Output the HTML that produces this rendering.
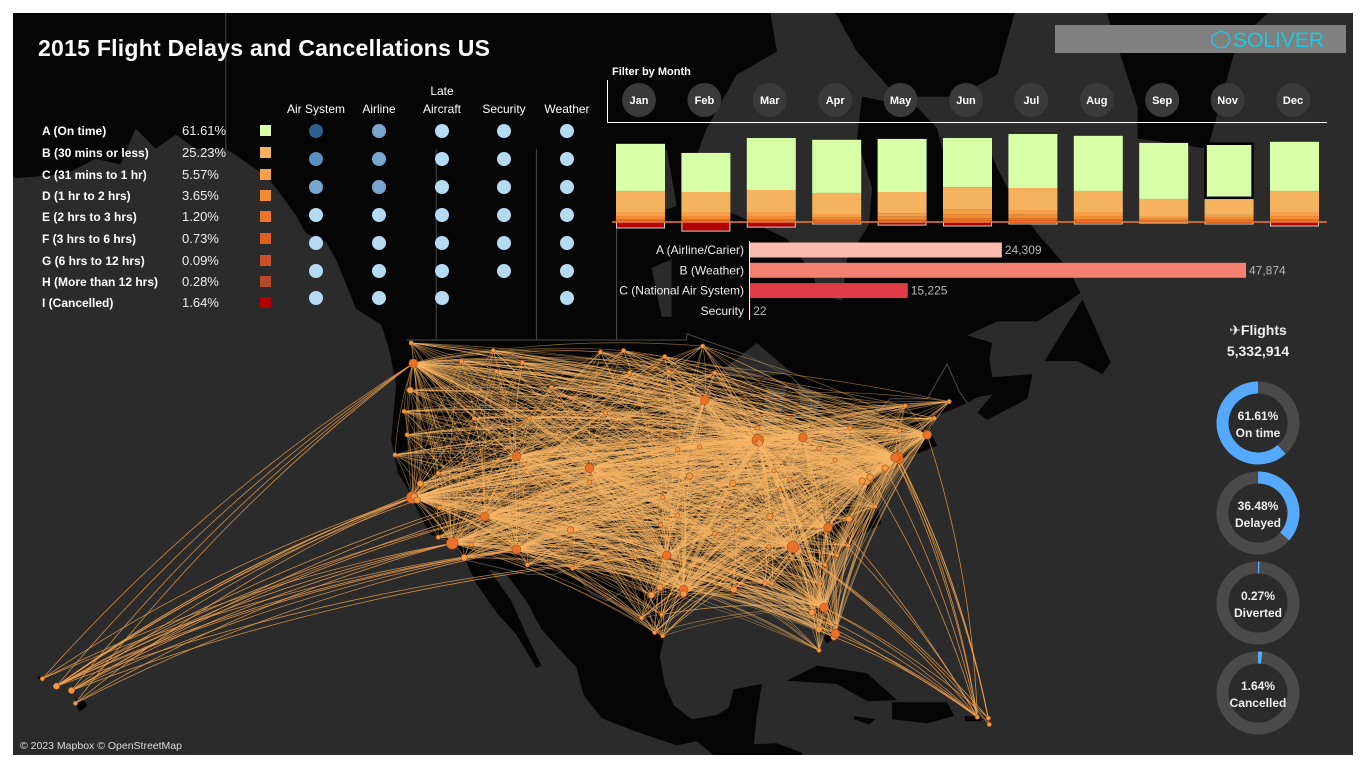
<!DOCTYPE html>
<html><head><meta charset="utf-8">
<style>
html,body{margin:0;padding:0;background:#fff;}
body{width:1365px;height:767px;overflow:hidden;position:relative;font-family:"Liberation Sans",sans-serif;}
svg{position:absolute;left:0;top:0;}
</style></head>
<body>
<svg id="root" width="1365" height="767" viewBox="0 0 1365 767">
  <defs><clipPath id="clipDash"><rect x="13" y="13" width="1340" height="742"/></clipPath></defs>
  <rect x="0" y="0" width="1365" height="767" fill="#ffffff"/>
  <g clip-path="url(#clipDash)">
    <rect x="13" y="13" width="1340" height="742" fill="#2b2b2b"/>
    <g id="land"></g>
    <g id="borders"></g>
    <g id="routes"></g>
    <g id="airports"></g>
  </g>
  <text x="38" y="56" fill="#ffffff" font-size="23" font-weight="bold" font-family="Liberation Sans, sans-serif" textLength="452">2015 Flight Delays and Cancellations US</text>
  <g>
    <rect x="1055" y="25" width="291" height="28" fill="#808080"/>
    <polygon points="1221,31 1228,34 1230,41 1226,47 1218,48 1212,43 1212,36" fill="none" stroke="#1ec8e0" stroke-width="1.3"/>
    <text x="1233" y="47" fill="#1ec8e0" font-size="21" font-family="Liberation Sans, sans-serif">SOLIVER</text>
  </g>
  <g id="legend"></g>
  <g id="dots"></g>
  <g id="filter">
    <text x="612" y="75" fill="#fff" font-size="11" font-weight="bold" font-family="Liberation Sans, sans-serif">Filter by Month</text>
    <line x1="607.5" y1="80" x2="607.5" y2="122" stroke="#fff" stroke-width="1"/>
    <line x1="607" y1="122.5" x2="1327" y2="122.5" stroke="#fff" stroke-width="1"/>
  </g>
  <g id="stack"></g>
  <g id="causes"></g>
  <g id="kpi">
    <text x="1258" y="335" text-anchor="middle" fill="#eee" font-size="14" font-weight="bold" font-family="Liberation Sans, DejaVu Sans, sans-serif">✈Flights</text>
    <text x="1258" y="356" text-anchor="middle" fill="#eee" font-size="14" font-weight="bold" font-family="Liberation Sans, sans-serif">5,332,914</text>
  </g>
  <g>
    <rect x="13" y="737" width="180" height="17" fill="#2b2b2b" opacity="0.8"/>
    <text x="20" y="749" fill="#ddd" font-size="10.5" font-family="Liberation Sans, sans-serif">© 2023 Mapbox © OpenStreetMap</text>
  </g>
</svg>
<script>
// ---------- chart data ----------
const months = ["Jan","Feb","Mar","Apr","May","Jun","Jul","Aug","Sep","Nov","Dec"];
const onTime = [259,215,286,292,292,270,297,303,308,303,270];
const delayB = [116,110,121,116,116,121,121,116,94,94,116];
const delayC = [22,22,22,18,20,29,26,22,13,15,22];
const delayD = [17,17,17,13,15,22,20,17,10,12,17];
const delayE = [8,8,8,6,7,9,9,8,5,6,8];
const delayFGH = [8,8,8,7,7,11,11,8,5,6,8];
const cancelled = [33,50,28,11,17,22,11,11,6,11,22];
const selectedMonth = "Nov";

const causeLabels = ["A (Airline/Carier)","B (Weather)","C (National Air System)","Security"];
const causeValues = [24309,47874,15225,22];
const causeValueLabels = ["24,309","47,874","15,225","22"];

const legendLabels = ["A (On time)","B (30 mins or less)","C (31 mins to 1 hr)","D (1 hr to 2 hrs)","E (2 hrs to 3 hrs)","F (3 hrs to 6 hrs)","G (6 hrs to 12 hrs)","H (More than 12 hrs)","I (Cancelled)"];
const legendPct = ["61.61%","25.23%","5.57%","3.65%","1.20%","0.73%","0.09%","0.28%","1.64%"];

const causeCols = ["Air System","Airline","Late Aircraft","Security","Weather"];
const dotAirSystem = [3,2,1,0,0,0,0];
const dotAirline = [1,1,1,0,0,0,0];
const dotLateAircraft = [0,0,0,0,0,0,0];
const dotSecurity = [0,0,0,0,0,0,-1];
const dotWeather = [0,0,0,0,0,0,0];

const donutLabels = ["On time","Delayed","Diverted","Cancelled"];
const donutValues = [61.61,36.48,0.27,1.64];

const airports = [
["SEA",-122.3,47.45,2],["PDX",-122.6,45.6,1],["SFO",-122.4,37.6,3],["OAK",-122.2,37.7,1],["SJC",-121.9,37.4,1],["SMF",-121.6,38.7,1],
["LAX",-118.4,33.9,3],["SAN",-117.2,32.7,1],["LAS",-115.15,36.1,2],["PHX",-112,33.4,2],["SLC",-112,40.8,2],["DEN",-104.7,39.9,2],
["BOI",-116.2,43.6,0],["GEG",-117.5,47.6,0],["BIL",-108.5,45.8,0],["ABQ",-106.6,35,1],["ELP",-106.4,31.8,0],["TUS",-110.9,32.1,0],
["DFW",-97,32.9,2],["IAH",-95.3,30,2],["HOU",-95.3,29.6,1],["AUS",-97.7,30.2,1],["SAT",-98.5,29.5,1],["MSY",-90.3,30,1],
["OKC",-97.6,35.4,0],["MCI",-94.7,39.3,1],["STL",-90.4,38.7,1],["MSP",-93.2,44.9,2],["ORD",-87.9,42,3],["MDW",-87.75,41.8,1],
["DTW",-83.4,42.2,2],["CLE",-81.8,41.4,0],["PIT",-80.2,40.5,0],["ATL",-84.4,33.6,3],["CLT",-80.9,35.2,2],["MCO",-81.3,28.4,2],
["MIA",-80.3,25.8,1],["FLL",-80.15,26.1,2],["TPA",-82.5,28,1],["JFK",-73.8,40.6,2],["LGA",-73.9,40.8,2],["EWR",-74.2,40.7,2],
["BOS",-71,42.4,2],["PHL",-75.2,39.9,1],["DCA",-77,38.85,1],["IAD",-77.5,38.9,1],["BWI",-76.7,39.2,1],["BNA",-86.7,36.1,1],
["MEM",-90,35,0],["IND",-86.3,39.7,0],["CVG",-84.7,39,0],["SDF",-85.7,38.2,0],["RDU",-78.8,35.9,1],["JAX",-81.7,30.5,0],
["SAV",-81.2,32.1,0],["CHS",-80,32.9,0],["MKE",-87.9,42.9,0],["FAR",-96.8,46.9,0],["BIS",-100.7,46.8,0],["MSO",-114,46.9,0],
["GTF",-111.4,47.5,0],["FCA",-114.3,48.3,0],["MOT",-101.3,48.3,0],["ISN",-103.6,48.2,0],["GFK",-97.2,47.9,0],["BLI",-122.5,48.8,0],
["DLH",-92.2,46.8,0],["INL",-93.4,48.6,0],["BGR",-68.8,44.8,0],["PWM",-70.3,43.6,0],["BTV",-73.2,44.5,0],["BRO",-97.4,25.9,0],
["MFE",-98.2,26.2,0],["LRD",-99.5,27.5,0],["CRP",-97.5,27.8,0],["RSW",-81.8,26.5,1],["PBI",-80.1,26.7,0],["EYW",-81.8,24.6,0],
["PNS",-87.2,30.5,0],["VPS",-86.5,30.5,0],["OMA",-95.9,41.3,0],["DSM",-93.7,41.5,0],["ICT",-97.4,37.6,0],["TUL",-95.9,36.2,0],
["LIT",-92.2,34.7,0],["BHM",-86.8,33.6,0],["RNO",-119.8,39.5,0],["FAT",-119.7,36.8,0],["COS",-104.7,38.8,0],["RAP",-103.1,44,0],
["JAC",-110.7,43.6,0],["MFR",-122.9,42.4,0],["EUG",-123.2,44.1,0],["ACV",-124.1,40.9,0],["SBA",-119.8,34.4,0],["PSP",-116.5,33.8,0],
["BUF",-78.7,42.9,0],["ALB",-73.8,42.7,0],["ORF",-76.2,36.9,0],["MYR",-78.9,33.7,0],["HNL",-157.9,21.3,1],["OGG",-156.4,20.9,1],
["KOA",-156,19.7,0],["LIH",-159.3,22,0],["SJU",-66,18.4,0],["STT",-64.9,18.3,0],["STX",-64.8,17.7,0]
];
const hubs = ["ATL","ORD","DFW","DEN","LAX","SFO","MSP","DTW","IAH","SEA","PHX","LAS","SLC","EWR","CLT","JFK","BOS","MCO","BWI","MDW"];
const hawaiiLinks = ["LAX","SFO","SEA","PHX","LAS","DEN","DFW","ORD","SLC","OAK","SAN","SJC","PDX","IAH"];
const sjuLinks = ["ATL","JFK","EWR","MCO","MIA","FLL","BOS","PHL","CLT","ORD","BWI","DFW","TPA"];

// ---------- helpers ----------
const NS = "http://www.w3.org/2000/svg";
function mk(tag, attrs, parent){const e=document.createElementNS(NS,tag);for(const k in attrs)e.setAttribute(k,attrs[k]);if(parent)parent.appendChild(e);return e;}
const merc = lat => Math.log(Math.tan(Math.PI/4 + lat*Math.PI/360));
const projX = lon => 834 + 10.02*(lon + 80.3);
const projY = lat => 637 - 574*(merc(lat) - merc(25.8));
const F = "Liberation Sans, sans-serif";

// ---------- base map ----------
const landPolys = [
 [[-170,75],[-170,60],[-165,60],[-162,58.5],[-157,58.7],[-154,59.5],[-151.5,59.2],[-150,61],[-148,60],[-146,60.7],[-144,60],[-141,60],[-139.5,59.5],[-137,58.6],[-136,58],[-134,56.5],[-133,55.5],[-131,55],[-130,54],[-128,51],[-125.5,50],[-124.7,48.4],[-124,46],[-124.5,42],[-123.8,39.5],[-122.5,37.8],[-121.9,36.6],[-120.6,34.6],[-118.5,34],[-117.1,32.5],[-116,30.5],[-114,28],[-112,26],[-110,23],[-109.5,23.2],[-111,26],[-112.5,29],[-114.7,31.7],[-113,31.3],[-111,29],[-109.5,26.5],[-106,23],[-105.3,20.5],[-103.5,18.3],[-100,17],[-96,15.7],[-94,16.1],[-92,14.5],[-92,10],[-83,10],[-83.5,15],[-86,15.9],[-88.3,15.8],[-88,18.5],[-87.5,21.5],[-90.3,21],[-90.8,19.3],[-92,18.6],[-94.5,18.2],[-96.3,19.5],[-97.2,21.5],[-97.7,24],[-97.2,26],[-97.4,27.5],[-96,28.6],[-94,29.6],[-92,29.6],[-90,29.1],[-89.2,30.3],[-87,30.3],[-85,29.6],[-84,30],[-82.7,28.5],[-82,26.5],[-81,25.2],[-80.1,25.8],[-80,27],[-80.6,28.6],[-81.4,30.5],[-80.9,32],[-79,33.6],[-77.5,34.6],[-75.6,35.5],[-76,37],[-75.2,38],[-74.9,39],[-74,40.5],[-72,41],[-70,41.6],[-70.7,42.6],[-70,43.8],[-67,44.7],[-66,45.1],[-64.5,45.3],[-66,44],[-65,43.5],[-61,45],[-60.5,46.7],[-64.5,46.5],[-64.8,47.8],[-64.5,48.8],[-67,49.3],[-64,50.2],[-60,50.2],[-57,51.4],[-55.7,52],[-57,53.5],[-60,55.5],[-62,57],[-64,59],[-65,60.3],[-69,59],[-70,61],[-72,62],[-77.5,62.5],[-78,60.5],[-76.5,58],[-76.8,56],[-79,54],[-79.5,51.5],[-82,52],[-82.3,53],[-85,55.2],[-88,56],[-92,57],[-94.5,59],[-93,61],[-90,63.5],[-86,64.5],[-87,67],[-90,75]],
 [[-78,64.5],[-74,62.5],[-68,62.5],[-64,63.5],[-62,66.5],[-60,75],[-85,75],[-85,68],[-80,66]],
 [[-50,60.5],[-43,60],[-40,65],[-30,68.5],[-22,70],[-20,80],[-60,80],[-55,70],[-53,66],[-50,62]],
 [[-59.3,47.6],[-55.5,51.6],[-52.7,47.5],[-53.5,46.7],[-56,47.6]],
 [[-85,21.8],[-82,23.2],[-77,22.5],[-74,20],[-77,19.9],[-80,21.5]],
 [[-74.5,19.8],[-69,19.8],[-68.3,18.5],[-71,17.8],[-74.5,18.2]],
 [[-67.3,18.5],[-65.6,18.4],[-65.6,18],[-67.2,18]],
 [[-78.3,18.5],[-76.2,18.2],[-76.8,17.7],[-78.3,18.2]],
 [[-159.8,22.2],[-159.3,22.25],[-159.3,21.9],[-159.7,21.95]],
 [[-158.3,21.6],[-157.7,21.5],[-157.7,21.25],[-158.1,21.3]],
 [[-156.7,21],[-156,20.9],[-156,20.6],[-156.6,20.7]],
 [[-156,20.2],[-155.1,19.9],[-154.8,19.5],[-155.6,18.9],[-156,19.6]]
];
const lakes = [
 [[-92,46.7],[-88,48.8],[-84.5,46.8],[-88,46.5]],
 [[-87.8,42],[-87,45.8],[-85,45.8],[-86.3,42]],
 [[-84,46],[-81.5,45.3],[-82.5,43],[-83.5,44]],
 [[-83.4,41.7],[-79,42.8],[-79,42.5],[-83,41.5]],
 [[-79.8,43.3],[-76.2,44],[-76.2,43.5],[-79.5,43.2]],
 [[-100,58],[-97,60],[-96,57],[-99,56.5]],
 [[-98.5,53.5],[-96.5,54],[-96.5,50.5],[-97.5,50.5]]
];
const landG=document.getElementById('land');
function polyStr(p){return p.map(c=>projX(c[0]).toFixed(1)+","+projY(c[1]).toFixed(1)).join(" ");}
landPolys.forEach(p=>{const e=mk('polygon',{points:polyStr(p),fill:'#050505'},landG);

});
lakes.forEach(p=>{const e=mk('polygon',{points:polyStr(p),fill:'#2b2b2b'},landG);

});
const bordG=document.getElementById('borders');
const borderLines=[[[-123,49],[-95,49],[-95,49.4],[-89,48],[-84.5,46.5],[-82.5,45],[-83,42],[-79,43],[-76,44],[-74.7,45],[-71,45],[-69,47.4],[-67.8,45.5],[-67,44.7]],[[-117,32.5],[-111,31.3],[-108.2,31.3],[-106.5,31.8],[-104.5,29.6],[-103,29],[-101.4,29.8],[-99.5,27.5],[-97.2,26]],[[-141,60],[-141,75]],[[-120,49],[-120,60]],[[-110,49],[-110,60]],[[-102,49],[-102,60]]];
borderLines.forEach(l=>{const e=mk('polyline',{points:polyStr(l),fill:'none',stroke:'#4a4a4a','stroke-width':1},bordG);

});

// ---------- routes ----------
const apIndex={};airports.forEach(a=>apIndex[a[0]]=a);
const routeG=document.getElementById('routes');
const seen=new Set();
function route(a,b,col,op,w){
  const key=[a[0],b[0]].sort().join('-'); if(seen.has(key)||a[0]===b[0])return; seen.add(key);
  const x1=projX(a[1]),y1=projY(a[2]),x2=projX(b[1]),y2=projY(b[2]);
  const dx=x2-x1,dy=y2-y1,d=Math.hypot(dx,dy);
  let nx=-dy/d,ny=dx/d; if(ny>0){nx=-nx;ny=-ny;}
  const k=d*0.07;
  const cx=(x1+x2)/2+nx*k,cy=(y1+y2)/2+ny*k;
  const e=mk('path',{d:`M${x1.toFixed(1)},${y1.toFixed(1)} Q${cx.toFixed(1)},${cy.toFixed(1)} ${x2.toFixed(1)},${y2.toFixed(1)}`,fill:'none',stroke:col,'stroke-opacity':op,'stroke-width':w},routeG);
  
  
}
const mainland=airports.filter(a=>a[1]>-125 && a[2]>24);
hubs.forEach(h=>{const H=apIndex[h];mainland.forEach(a=>route(H,a,'#fab868',0.5,0.7));});
const hawaiiCounts=[12,7,4,4];
["HNL","OGG","KOA","LIH"].forEach((h,i)=>{hawaiiLinks.slice(0,hawaiiCounts[i]).forEach(t=>route(apIndex[h],apIndex[t],'#f5a550',0.8,0.8));});
const sjuCounts=[13,4,2];
["SJU","STT","STX"].forEach((h,i)=>{sjuLinks.slice(0,sjuCounts[i]).forEach(t=>route(apIndex[h],apIndex[t],'#f5a550',0.8,0.8));});
const apG=document.getElementById('airports');
airports.forEach(a=>{
  const r=[2.2,3.2,4.4,5.8][a[3]];
  const c=mk('circle',{cx:projX(a[1]).toFixed(1),cy:projY(a[2]).toFixed(1),r:r,fill:a[3]>=2?'#e9722a':'#f39a45',stroke:'#a9521b','stroke-width':0.6},apG);
  
  
});

// ---------- legend ----------
const legendColors=["#d8ffa8","#f6b35f","#f5a04a","#f28c33","#ef7526","#e0601f","#c8502a","#b44a26","#b30000"];
const legG=document.getElementById('legend');
const legY=[131,153,175,196,217,239,261,282,303];
legendLabels.forEach((l,i)=>{
  const t=mk('text',{x:42,y:legY[i]+4,fill:'#fff','font-size':12,'font-weight':'bold','font-family':F},legG);t.textContent=l;
  
  
  const p=mk('text',{x:182,y:legY[i]+4,fill:'#eee','font-size':13,'font-family':F},legG);p.textContent=legendPct[i];
  
  
  const s=mk('rect',{x:260,y:legY[i]-6,width:11,height:11,fill:legendColors[i]},legG);
  
  
});

// ---------- dot matrix ----------
const dotG=document.getElementById('dots');
const dotColors=["#b5dbf2","#78a8d2","#5a8fc0","#2f5f8f"];
const colX=[316,379,442,504,567];
const rowY=[131,159,187,215,243,271,298];
const dotData=[dotAirSystem,dotAirline,dotLateAircraft,dotSecurity,dotWeather];
causeCols.forEach((c,i)=>{
  const parts=c==="Late Aircraft"?["Late","Aircraft"]:[c];
  parts.forEach((p,j)=>{const t=mk('text',{x:colX[i],y:(parts.length===2?95+j*18:113),'text-anchor':'middle',fill:'#fff','font-size':12,'font-family':F},dotG);t.textContent=p;
  
  });
  dotData[i].forEach((v,r)=>{ if(v<0)return;
    const d=mk('circle',{cx:colX[i],cy:rowY[r],r:7,fill:dotColors[v]},dotG);
    
    
  });
});

// ---------- month filter ----------
const filG=document.getElementById('filter');
const monthX=i=>639+i*65.4;
months.forEach((m,i)=>{
  const c=mk('circle',{cx:monthX(i),cy:100,r:17,fill:'#3a3a3a'},filG);
  
  
  const t=mk('text',{x:monthX(i),y:104,'text-anchor':'middle',fill:'#fff','font-size':11,'font-weight':'bold','font-family':F},filG);t.textContent=m;
  
  
});

// ---------- stacked bars ----------
const stG=document.getElementById('stack');
const base=222, barW=49;
const yPx=v=>v/5.5;
const barX=i=>616+i*65.4;
const stackSeries=[onTime,delayB,delayC,delayD,delayE,delayFGH];
const stackColors=["#d8ffa8","#f6b35f","#f5a04a","#f28c33","#ef7526","#e0601f"];
months.forEach((m,i)=>{
  let y=base;
  for(let s=stackSeries.length-1;s>=0;s--){
    const h=yPx(stackSeries[s][i]); y-=h;
    const r=mk('rect',{x:barX(i),y:y,width:barW,height:h,fill:stackColors[s]},stG);
    
    
    if(s===0 && m===selectedMonth){
      const b=mk('rect',{x:barX(i)+1,y:y+1,width:barW-2,height:h-1,fill:'none',stroke:'#000','stroke-width':2.5},stG);
      
      
    }
  }
  const ch=yPx(cancelled[i]);
  const c=mk('rect',{x:barX(i)+0.5,y:base,width:barW-1,height:ch,fill:'#b30000',stroke:'#d0d0d0','stroke-width':1},stG);
  
  
});
const bl=mk('line',{x1:612,y1:base,x2:1327,y2:base,stroke:'#f08020','stroke-width':1.5},stG);



// ---------- cause bars ----------
const caG=document.getElementById('causes');
const causeColors=["#fbbcb0","#f4806f","#e03c45","#e03c45"];
const cx0=749, cScale=496/47874;
const cy=i=>250+i*20.3;
const ax=mk('line',{x1:749.5,y1:241,x2:749.5,y2:320,stroke:'#fff','stroke-width':1},caG);


causeLabels.forEach((l,i)=>{
  const t=mk('text',{x:744,y:cy(i)+4,'text-anchor':'end',fill:'#eee','font-size':12,'font-family':F},caG);t.textContent=l;
  
  
  const w=causeValues[i]*cScale;
  const r=mk('rect',{x:cx0+1,y:cy(i)-7.5,width:w,height:15,fill:causeColors[i]},caG);
  
  
  const v=mk('text',{x:cx0+w+4,y:cy(i)+4,fill:'#b8b8b8','font-size':12,'font-family':F},caG);v.textContent=causeValueLabels[i];
  
  
});

// ---------- donuts ----------
const kG=document.getElementById('kpi');
const dCx=1258, dCy=i=>423+i*90, R=35.5, SW=12;
function arcPath(cx,cy,r,a0,a1){
  const p=a=>[cx+r*Math.sin(a),cy-r*Math.cos(a)];
  const s=p(a0),e=p(a1);const large=Math.abs(a1-a0)>Math.PI?1:0;const sweep=a1>a0?1:0;
  return `M${s[0].toFixed(2)},${s[1].toFixed(2)} A${r},${r} 0 ${large} ${sweep} ${e[0].toFixed(2)},${e[1].toFixed(2)}`;
}
donutLabels.forEach((l,i)=>{
  const y=dCy(i);
  const bg=mk('circle',{cx:dCx,cy:y,r:R,fill:'none',stroke:'#4a4a4a','stroke-width':SW},kG);
  
  
  const ang=Math.max(donutValues[i],0.6)/100*2*Math.PI;
  const dir=i===0?-1:1;
  const a=mk('path',{d:arcPath(dCx,y,R,0,dir*ang),fill:'none',stroke:'#55aaff','stroke-width':SW},kG);
  
  
  const t1=mk('text',{x:dCx,y:y-3,'text-anchor':'middle',fill:'#eee','font-size':12,'font-weight':'bold','font-family':F},kG);t1.textContent=donutValues[i].toFixed(2)+"%";
  
  
  const t2=mk('text',{x:dCx,y:y+14,'text-anchor':'middle',fill:'#eee','font-size':12,'font-weight':'bold','font-family':F},kG);t2.textContent=l;
  
  
});
</script>
</body></html>
